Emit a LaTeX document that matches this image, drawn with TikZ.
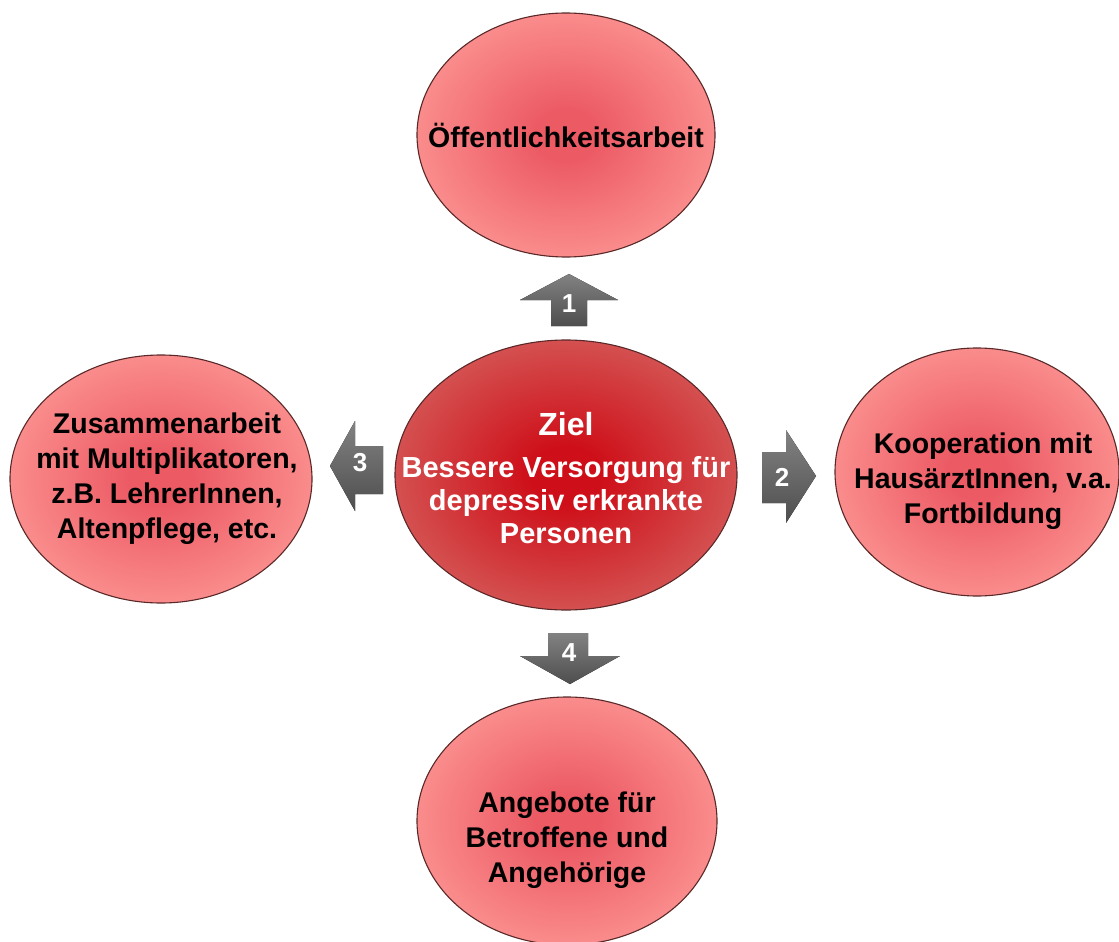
\documentclass[tikz,border=0pt]{standalone}
\usepackage{fontspec}
\setmainfont{Liberation Sans}
\usepackage{tikz}
\usetikzlibrary{shapes.geometric}
\definecolor{pinkin}{RGB}{236,90,100}
\definecolor{pinkout}{RGB}{250,140,140}
\definecolor{redin}{RGB}{206,14,24}
\definecolor{redout}{RGB}{212,80,80}
\definecolor{rimline}{RGB}{90,40,40}
\definecolor{arrowtop}{RGB}{130,130,130}
\definecolor{arrowbot}{RGB}{78,78,78}
\pgfdeclareradialshading{pinkglow}{\pgfpoint{0bp}{0bp}}{color(0bp)=(pinkin); color(5bp)=(pinkin); color(25bp)=(pinkout); color(50bp)=(pinkout)}
\pgfdeclareradialshading{redglow}{\pgfpoint{0bp}{0bp}}{color(0bp)=(redin); color(5bp)=(redin); color(25bp)=(redout); color(50bp)=(redout)}
\tikzset{field/.style={ellipse, draw=rimline, line width=1.1pt, shade, shading=pinkglow, inner sep=0pt, minimum width=300pt, minimum height=246pt},
  fieldtext/.style={align=center, inner sep=0pt, font=\fontsize{28.5}{35}\selectfont\bfseries},
  goal/.style={field, shading=redglow, minimum width=342pt, minimum height=270pt},
  goaltext/.style={fieldtext, text=white, font=\fontsize{29}{33}\selectfont\bfseries},
  blockarrow/.style={top color=arrowtop, bottom color=arrowbot, draw=none},
  stepnum/.style={text=white, inner sep=0pt, font=\fontsize{26}{26}\selectfont\bfseries}}

\begin{document}
\begin{tikzpicture}[x=1pt,y=-1pt]
\fill[white] (0,0) rectangle (1119,942);
\path[use as bounding box] (0,0) rectangle (1119,942);

% the five fields
\node[goal] (ziel) at (566,475) {};
\node[field, minimum width=298pt, minimum height=244pt] (oeff) at (566,135) {};
\node[field, minimum width=284pt, minimum height=248pt] (koop) at (977,472) {};
\node[field, minimum width=302pt, minimum height=248pt] (zus) at (161,479) {};
\node[field, minimum width=300pt, minimum height=248pt] (ang) at (567,821) {};

\node[goaltext] (zieltext) at ([yshift=-3pt]ziel.center) {{\fontsize{32}{36}\selectfont Ziel}\\[9pt]Bessere Versorgung für\\depressiv erkrankte\\Personen};
\node[fieldtext] (oefftext) at (oeff.center) {Öffentlichkeitsarbeit};
\node[fieldtext] (kooptext) at ([xshift=6pt,yshift=-9pt]koop.center) {Kooperation mit\\HausärztInnen, v.a.\\Fortbildung};
\node[fieldtext] (zustext) at ([xshift=6pt]zus.center) {Zusammenarbeit\\mit Multiplikatoren,\\z.B. LehrerInnen,\\Altenpflege, etc.};
\node[fieldtext] (angtext) at ([yshift=-19pt]ang.center) {Angebote für\\Betroffene und\\Angehörige};

% block arrows
\fill[blockarrow] (551,326) -- (551,300) -- (520,300) -- (569,274) -- (618,300) -- (587,300) -- (587,326) -- cycle;
\fill[blockarrow] (762,452) -- (786,452) -- (786,430) -- (816,476) -- (786,523) -- (786,503) -- (762,503) -- cycle;
\fill[blockarrow] (383,446) -- (355,446) -- (355,421) -- (330,466) -- (355,511) -- (355,494) -- (383,494) -- cycle;
\fill[blockarrow] (548,633) -- (588,633) -- (588,656) -- (620,656) -- (570,684) -- (520,656) -- (548,656) -- cycle;

\node[stepnum] (n1) at (569,304) {1};
\node[stepnum] (n2) at (782,477) {2};
\node[stepnum] (n3) at (360,463) {3};
\node[stepnum] (n4) at (569,653) {4};

\end{tikzpicture}
\end{document}
